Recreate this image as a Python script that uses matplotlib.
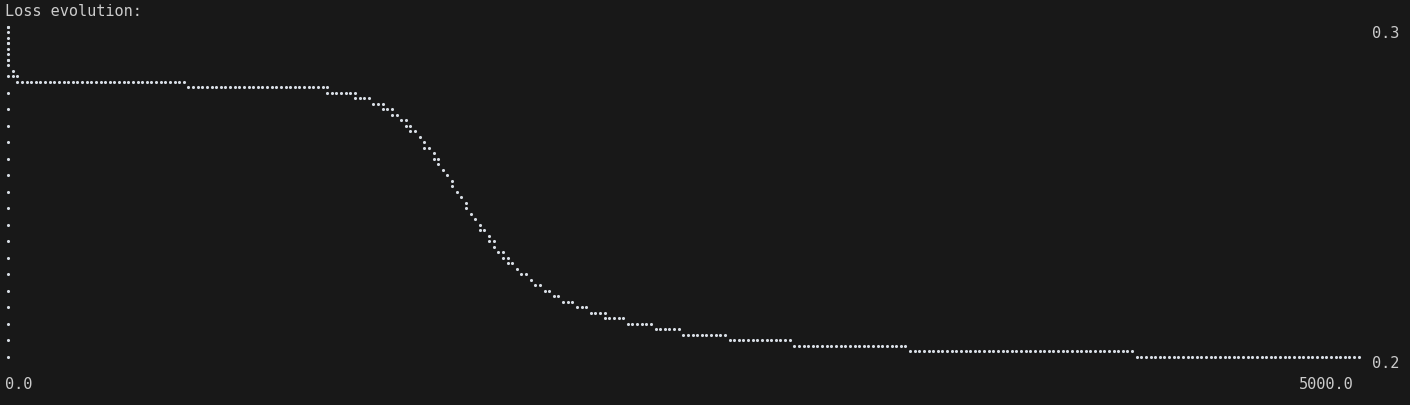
import numpy as np
import matplotlib
matplotlib.use("Agg")
import matplotlib.pyplot as plt

# terminal braille plot: 293 dot columns over epochs 0..5000, 61 dot rows over loss 0.3..0.2
x_min, x_max = 0.0, 5000.0
y_min, y_max = 0.2, 0.3
n_cols = 293
n_rows = 61

seg_row = [0, 1, 2, 3, 4, 5, 6, 7, 8, 9, 10, 11, 12, 13, 14, 15, 16, 17, 18, 19,
           20, 21, 22, 23, 24, 25, 26, 27, 28, 29, 30, 31, 32, 33, 34, 35, 36, 37, 38, 39,
           40, 41, 42, 43, 44, 45, 46, 47, 48, 49, 50, 51, 52, 53, 54, 55, 56, 57, 58, 59, 60]
seg_first = [0, 0, 0, 0, 0, 0, 0, 0, 1, 1, 2, 39, 69, 75, 79, 81, 83, 85, 86, 87,
             89, 90, 90, 92, 92, 93, 94, 95, 96, 96, 97, 98, 99, 99, 100, 101, 102, 102, 104, 104,
             105, 106, 107, 108, 110, 111, 113, 114, 116, 118, 120, 123, 126, 129, 134, 140, 146, 156, 170, 195, 244]
seg_last = [0, 0, 0, 0, 0, 0, 0, 0, 1, 2, 38, 69, 75, 78, 81, 83, 84, 86, 87, 88,
            89, 90, 91, 92, 93, 93, 94, 95, 96, 96, 97, 98, 99, 99, 100, 101, 102, 103, 104, 105,
            105, 107, 108, 109, 110, 112, 113, 115, 117, 119, 122, 125, 129, 133, 139, 145, 155, 169, 194, 243, 292]

# left axis: one dot every third row
axis_rows = list(range(0, n_rows, 3))

title = "Loss evolution:"
y_labels = ["0.3", "0.2"]
x_labels = ["0.0", "5000.0"]

bg = "#181818"
fg = "#cccccc"
dot = "#d6dce3"

W, H = 1410, 406
fig = plt.figure(figsize=(W / 100, H / 100), dpi=100)
fig.patch.set_facecolor(bg)
ax = fig.add_axes([0, 0, 1, 1])
ax.set_facecolor(bg)
ax.axis("off")


def col_to_x(c):
    return x_min + np.asarray(c, dtype=float) * (x_max - x_min) / (n_cols - 1)


def row_to_y(r):
    return y_max - np.asarray(r, dtype=float) * (y_max - y_min) / (n_rows - 1)


xs, ys = [], []
for r, a, b in zip(seg_row, seg_first, seg_last):
    cols = np.arange(a, b + 1)
    xs.extend(col_to_x(cols))
    ys.extend(row_to_y(np.full(len(cols), r)))

ax.scatter(col_to_x(np.zeros(len(axis_rows))), row_to_y(axis_rows), s=5, c=dot, linewidths=0)
ax.scatter(xs, ys, s=5, c=dot, linewidths=0)

# pixel layout of the terminal: first dot column at x=8, last at 1358.7; rows 27.5 .. 358
px0, px1 = 8.0, 1358.7
py0, py1 = 27.5, 358.0
sx = (px1 - px0) / (x_max - x_min)
sy = (py1 - py0) / (y_max - y_min)
ax.set_xlim(x_min - px0 / sx, x_min + (W - px0) / sx)
ax.set_ylim(y_max - (H - py0) / sy, y_max + py0 / sy)

font = dict(family="DejaVu Sans Mono", fontsize=11, color=fg)
fig.text(5 / W, 1 - 12 / H, title, ha="left", va="center", **font)
fig.text(1372 / W, 1 - 34 / H, y_labels[0], ha="left", va="center", **font)
fig.text(1372 / W, 1 - 364 / H, y_labels[1], ha="left", va="center", **font)
fig.text(5 / W, 1 - 385 / H, x_labels[0], ha="left", va="center", **font)
fig.text(1354 / W, 1 - 385 / H, x_labels[1], ha="right", va="center", **font)

fig.savefig("out.png", dpi=100, facecolor=bg)
